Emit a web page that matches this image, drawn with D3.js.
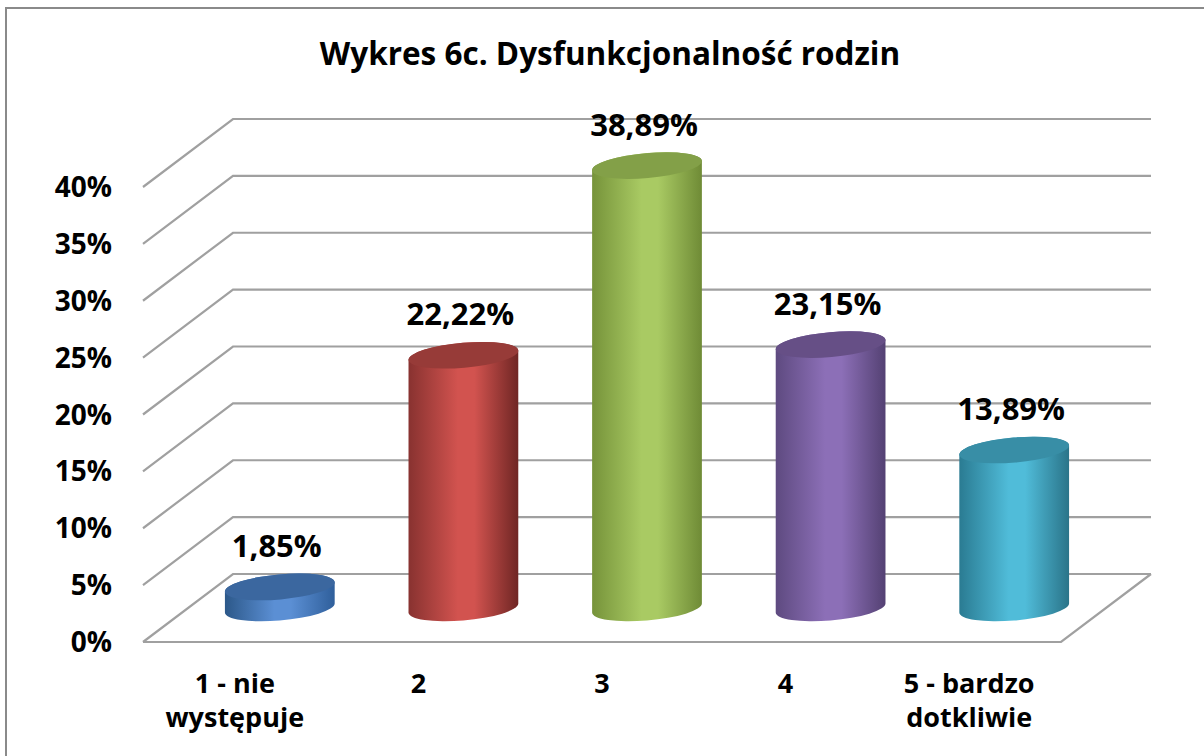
<!DOCTYPE html>
<html>
<head>
<meta charset="utf-8">
<script src="https://cdn.jsdelivr.net/npm/d3@7"></script>
<style>
  html, body { margin: 0; padding: 0; background: #fff; }
  svg { display: block; }
  text { font-family: "Open Sans", "DejaVu Sans", sans-serif; font-weight: 700; fill: #000; }
</style>
</head>
<body>
<svg id="chart" width="1204" height="756"></svg>
<script>
// ---- data ----
const title = "Wykres 6c. Dysfunkcjonalność rodzin";
const categories = ["1 - nie występuje", "2", "3", "4", "5 - bardzo dotkliwie"];
const categoryLines = [["1 - nie", "występuje"], ["2"], ["3"], ["4"], ["5 - bardzo", "dotkliwie"]];
const values = [1.85, 22.22, 38.89, 23.15, 13.89];
const valueLabels = ["1,85%", "22,22%", "38,89%", "23,15%", "13,89%"];
const yTicks = [0, 5, 10, 15, 20, 25, 30, 35, 40];
const yTickLabels = ["0%", "5%", "10%", "15%", "20%", "25%", "30%", "35%", "40%"];
const palette = [
  {edge: "#2c5889", mid: "#5b8fd4", right: "#2f5f9b", top: "#3b679f"},
  {edge: "#883230", mid: "#d2534f", right: "#6f2624", top: "#973b38"},
  {edge: "#76933a", mid: "#a9ca63", right: "#6f8b36", top: "#83a048"},
  {edge: "#5e4a80", mid: "#8c6fb7", right: "#544173", top: "#664f86"},
  {edge: "#2a7b92", mid: "#50bcd9", right: "#2a7489", top: "#388ea6"}
];

// ---- layout ----
const svg = d3.select("#chart");
const floorLeft = 143, floorRight = 1061;
const depthDx = 90, depthDy = -68;
const y = d3.scaleLinear().domain([0, 40]).range([642, 187]);
const x = d3.scaleBand().domain(categories).range([floorLeft, floorRight]);
const barFrac = 0.6;
const rx = x.bandwidth() * barFrac / 2;
const ry = 12.5;
const rotDeg = -5;
const th = rotDeg * Math.PI / 180;

// outer border
svg.append("rect").attr("x", 6).attr("y", 8).attr("width", 1220).attr("height", 780)
  .attr("fill", "#fff").attr("stroke", "#8a8a8a").attr("stroke-width", 2);

// title
svg.append("text").attr("x", 610).attr("y", 65).attr("text-anchor", "middle")
  .style("font-size", "31.5px").text(title);

// gridlines
const grid = svg.append("g").attr("fill", "none").attr("stroke", "#a0a0a0").attr("stroke-width", 2.2);
yTicks.forEach(t => {
  const yf = y(t);
  grid.append("path").attr("d",
    `M${floorLeft},${yf}L${floorLeft + depthDx},${yf + depthDy}L${floorRight + depthDx},${yf + depthDy}`);
});
// floor
grid.append("path").attr("d",
  `M${floorLeft},${y(0)}L${floorRight},${y(0)}L${floorRight + depthDx},${y(0) + depthDy}`);

// y tick labels
svg.append("g").selectAll("text").data(yTicks).join("text")
  .attr("x", 112).attr("y", d => y(d)).attr("dy", "0.36em").attr("text-anchor", "end")
  .style("font-size", "28px").text((d, i) => yTickLabels[i]);

// gradients
const defs = svg.append("defs");
palette.forEach((p, i) => {
  const g = defs.append("linearGradient").attr("id", "g" + i)
    .attr("x1", 0).attr("x2", 1).attr("y1", 0).attr("y2", 0);
  g.append("stop").attr("offset", "0%").attr("stop-color", p.edge);
  g.append("stop").attr("offset", "45%").attr("stop-color", p.mid);
  g.append("stop").attr("offset", "60%").attr("stop-color", p.mid);
  g.append("stop").attr("offset", "100%").attr("stop-color", p.right);
});

function tangentPts(cx, cy) {
  const t0 = Math.atan(-(ry * Math.sin(th)) / (rx * Math.cos(th)));
  const pt = t => [cx + rx * Math.cos(t) * Math.cos(th) - ry * Math.sin(t) * Math.sin(th),
                   cy + rx * Math.cos(t) * Math.sin(th) + ry * Math.sin(t) * Math.cos(th)];
  const a = pt(t0), b = pt(t0 + Math.PI);
  return a[0] < b[0] ? [a, b] : [b, a];
}

const bars = svg.append("g");
categories.forEach((c, i) => {
  const cx = x(c) + x.bandwidth() / 2 + depthDx / 2;
  const yb = y(0) + depthDy / 2;
  const yt = y(values[i]) + depthDy / 2;
  const [bl, br] = tangentPts(cx, yb);
  const [tl, tr] = tangentPts(cx, yt);
  const d = `M${tl[0]},${tl[1]}L${bl[0]},${bl[1]}` +
    `A${rx},${ry} ${rotDeg} 0 0 ${br[0]},${br[1]}` +
    `L${tr[0]},${tr[1]}` +
    `A${rx},${ry} ${rotDeg} 0 0 ${tl[0]},${tl[1]}Z`;
  bars.append("path").attr("d", d).attr("fill", `url(#g${i})`);
  bars.append("ellipse").attr("cx", cx).attr("cy", yt).attr("rx", rx).attr("ry", ry)
    .attr("transform", `rotate(${rotDeg},${cx},${yt})`).attr("fill", palette[i].top);
  svg.append("text").attr("x", cx - 3).attr("y", yt - 30).attr("text-anchor", "middle")
    .style("font-size", "31px").text(valueLabels[i]);
});

// category labels
const cl = svg.append("g");
categories.forEach((c, i) => {
  const cx = x(c) + x.bandwidth() / 2;
  categoryLines[i].forEach((line, j) => {
    cl.append("text").attr("x", cx).attr("y", 693 + j * 34).attr("text-anchor", "middle")
      .style("font-size", "27px").text(line);
  });
});
</script>
</body>
</html>
